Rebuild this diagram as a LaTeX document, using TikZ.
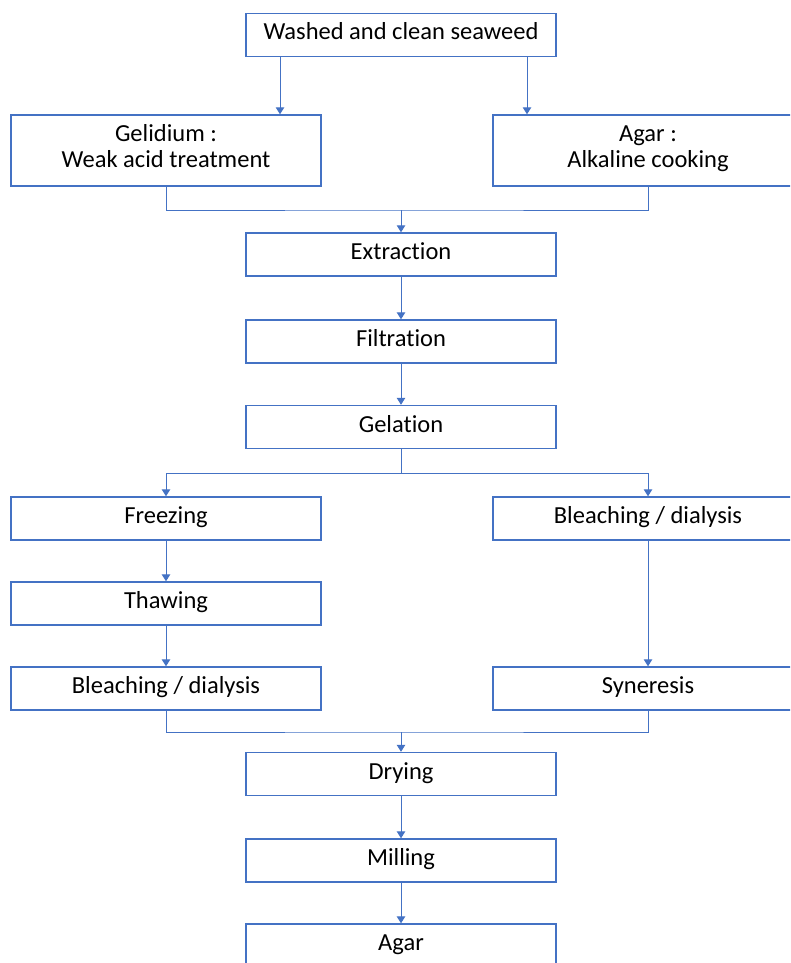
\documentclass[tikz,border=0pt]{standalone}
\usepackage{fontspec}
\setmainfont{Carlito}[Ligatures=NoCommon]
\usetikzlibrary{arrows.meta}
\definecolor{flowblue}{HTML}{4472C4}
\tikzset{
  stepbox/.style={draw=flowblue, line width=1.4pt, fill=white, minimum width=310pt,
    minimum height=43pt, inner sep=0pt, align=center, text height=17pt, text depth=7pt,
    font=\fontsize{24.5}{26}\selectfont},
  tallbox/.style={stepbox, minimum height=71pt, text height=41pt, text depth=8pt},
  link/.style={draw=flowblue, line width=1pt},
  flow/.style={link, -{Triangle[length=7pt,width=8.5pt]}},
}
\begin{document}
\begin{tikzpicture}[x=1pt, y=-1pt]
\useasboundingbox (0,0) rectangle (790,963);
\clip (0,0) rectangle (790,963);

% process steps
\node[stepbox] (top) at (401,35) {Washed and clean seaweed};
\node[tallbox] (gel) at (166,150.5) {Gelidium :\\Weak acid treatment};
\node[tallbox] (alk) at (648,150.5) {Agar :\\Alkaline cooking};
\node[stepbox] (ext) at (401,254.5) {Extraction};
\node[stepbox] (fil) at (401,341.5) {Filtration};
\node[stepbox] (gelat) at (401,427) {Gelation};
\node[stepbox] (freez) at (166,518.5) {Freezing};
\node[stepbox] (bleachR) at (648,518.5) {Bleaching / dialysis};
\node[stepbox] (thaw) at (166,603.5) {Thawing};
\node[stepbox] (bleachL) at (166,688.5) {Bleaching / dialysis};
\node[stepbox] (syn) at (648,688.5) {Syneresis};
\node[stepbox] (dry) at (401,774) {Drying};
\node[stepbox] (mill) at (401,860.5) {Milling};
\node[stepbox] (agar) at (401,945.5) {Agar};

% junction points
\coordinate (j1) at (401,210);
\coordinate (s1) at (401,473);
\coordinate (m1) at (401,732);

% connectors
\draw[flow] ([xshift=-121pt]top.south) -- ([xshift=-121pt]top.south |- gel.north);
\draw[flow] ([xshift=126pt]top.south) -- ([xshift=126pt]top.south |- alk.north);
\draw[link] (gel.south) |- (j1) -| (alk.south);
\draw[flow] (j1) -- (ext.north);
\draw[flow] (ext.south) -- (fil.north);
\draw[flow] (fil.south) -- (gelat.north);
\draw[link] (gelat.south) -- (s1);
\draw[flow] (s1) -| (freez.north);
\draw[flow] (s1) -| (bleachR.north);
\draw[flow] (freez.south) -- (thaw.north);
\draw[flow] (thaw.south) -- (bleachL.north);
\draw[flow] (bleachR.south) -- (syn.north);
\draw[link] (bleachL.south) |- (m1) -| (syn.south);
\draw[flow] (m1) -- (dry.north);
\draw[flow] (dry.south) -- (mill.north);
\draw[flow] (mill.south) -- (agar.north);
\end{tikzpicture}
\end{document}
